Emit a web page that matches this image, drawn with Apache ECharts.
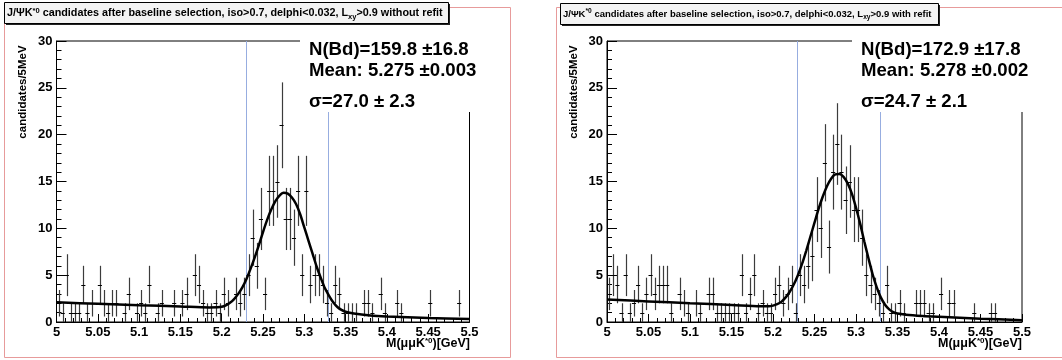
<!DOCTYPE html>
<html><head><meta charset="utf-8">
<script src="https://cdn.jsdelivr.net/npm/echarts/dist/echarts.min.js"></script>
<style>html,body{margin:0;padding:0;background:#fff}#c{width:1062px;height:360px}</style>
</head><body><div id="c"></div>
<script>
// ---- data ----
const binLow = 5.0;          // GeV, lower edge of first bin
const binWidth = 0.005;      // 5 MeV bins
const countsWithoutRefit = [
  2,1,5,1,1,1,4,1,2,0, 4,2,1,2,2,0,1,3,0,1,
  2,1,4,0,1,2,0,0,2,0, 2,3,0,5,4,2,1,1,2,1,
  3,2,0,3,2,3,5,9,6,11, 3,14,14,15,21,11,11,9,14,5,
  14,4,5,5,4,2,1,4,3,1, 1,1,1,0,2,2,1,0,3,1,
  0,0,2,1,0,0,0,0,0,0, 2,0,0,0,0,0,0,2,0,0
];
const countsWithRefit = [
  3,5,4,1,5,1,2,4,1,3, 5,3,4,4,4,1,0,3,2,1,
  0,2,1,0,3,3,1,1,1,1, 1,1,5,1,3,5,1,2,1,1,
  3,4,2,3,4,1,5,4,6,7, 12,10,17,8,16,19,16,13,15,12,
  12,9,5,4,3,2,1,4,1,1, 2,1,0,0,2,2,2,1,1,0,
  3,0,2,2,0,0,0,0,1,0, 0,0,1,1,0,0,0,0,0,0
];
// fit curves
const fitWithoutRefitX = [5.000,5.050,5.100,5.150,5.185,5.195,5.200,5.205,5.210,5.215,5.220,5.225,5.230,5.235,5.240,5.245,5.250,5.255,5.260,5.265,5.270,5.275,5.280,5.285,5.290,5.295,5.300,5.305,5.310,5.315,5.320,5.325,5.330,5.335,5.340,5.345,5.350,5.360,5.380,5.400,5.450,5.500];
const fitWithoutRefitY = [2.10,1.95,1.80,1.66,1.56,1.57,1.62,1.78,2.05,2.45,3.0,3.7,4.6,5.7,6.9,8.2,9.6,10.9,12.0,12.9,13.5,13.8,13.7,13.3,12.6,11.5,10.1,8.7,7.3,5.9,4.7,3.6,2.8,2.1,1.6,1.3,1.1,0.9,0.7,0.6,0.43,0.32];
const fitWithRefitX = [5.000,5.050,5.100,5.150,5.185,5.195,5.200,5.205,5.210,5.215,5.220,5.225,5.230,5.235,5.240,5.245,5.250,5.255,5.260,5.265,5.270,5.275,5.280,5.285,5.290,5.295,5.300,5.305,5.310,5.315,5.320,5.325,5.330,5.335,5.340,5.345,5.350,5.360,5.380,5.400,5.450,5.500];
const fitWithRefitY = [2.40,2.20,2.00,1.82,1.68,1.68,1.75,1.9,2.15,2.6,3.2,4.0,5.0,6.2,7.6,9.1,10.6,12.1,13.4,14.5,15.3,15.75,15.8,15.5,14.8,13.7,12.2,10.5,8.6,6.8,5.1,3.7,2.6,1.85,1.35,1.05,0.9,0.78,0.65,0.56,0.36,0.2];
const cutLines = [5.229, 5.329];
const xRange = [5.0, 5.5], xStep = 0.05;
const yRange = [0, 30], yStep = 5;
const titleTexts = [
  ['J/ΨK', '*0', ' candidates after baseline selection, iso>0.7, delphi<0.032, L', 'xy', '>0.9 without refit'],
  ['J/ΨK', '*0', ' candidates after baseline selection, iso>0.7, delphi<0.032, L', 'xy', '>0.9 with refit']
];
const statLines = [
  ['N(Bd)=159.8 ±16.8', 'Mean: 5.275 ±0.003', 'σ=27.0 ± 2.3'],
  ['N(Bd)=172.9 ±17.8', 'Mean: 5.278 ±0.002', 'σ=24.7 ± 2.1']
];
const yTitle = 'candidates/5MeV';

// ---- chart ----
const FONT = '"Liberation Sans", Arial, Helvetica, sans-serif';
const chart = echarts.init(document.getElementById('c'), null, {renderer: 'canvas'});

function toPoints(counts) { return counts.map((v, i) => [binLow + (i + 0.5) * binWidth, v]); }
function zip(xs, ys) { return xs.map((x, i) => [x, ys[i]]); }

function renderErr(params, api) {
  const x = api.value(0), v = api.value(1);
  if (!v) return null;
  const e = Math.sqrt(v);
  const pL = api.coord([x - binWidth / 2, v]);
  const pR = api.coord([x + binWidth / 2, v]);
  const pT = api.coord([x, v + e]);
  const pB = api.coord([x, Math.max(0, v - e)]);
  const cx = Math.round(pT[0]) + 0.5, cy = Math.round(pL[1]) + 0.5;
  return {type: 'group', children: [
    {type: 'line', shape: {x1: cx, y1: pB[1], x2: cx, y2: pT[1]}, style: {stroke: '#3c3c3c', lineWidth: 1.2}},
    {type: 'line', shape: {x1: pL[0], y1: cy, x2: pR[0], y2: cy}, style: {stroke: '#000', lineWidth: 1}}
  ]};
}
function renderCut(params, api) {
  const x = api.value(0);
  const pT = api.coord([x, yRange[1]]);
  const pB = api.coord([x, yRange[0]]);
  const cx = Math.round(pT[0]) + 0.5;
  return {type: 'line', shape: {x1: cx, y1: pT[1], x2: cx, y2: pB[1]}, style: {stroke: '#97ade0', lineWidth: 1}};
}

const grids = [
  {left: 56.5, top: 41, width: 413, height: 281},
  {left: 607, top: 41, width: 415, height: 281}
];

function xAxis(g) {
  return {
    type: 'value', gridIndex: g, min: xRange[0], max: xRange[1], interval: xStep,
    axisLine: {show: true, onZero: false, lineStyle: {color: '#000', width: 1}},
    axisTick: {show: true, inside: true, length: 8, lineStyle: {color: '#000'}},
    minorTick: {show: true, splitNumber: 5, length: 4, lineStyle: {color: '#000'}},
    splitLine: {show: false},
    axisLabel: {color: '#000', fontWeight: 'bold', fontSize: 13, fontFamily: FONT, margin: 4, hideOverlap: false,
      formatter: v => String(+v.toFixed(2))}
  };
}
function yAxis(g) {
  return {
    type: 'value', gridIndex: g, min: yRange[0], max: yRange[1], interval: yStep,
    axisLine: {show: true, lineStyle: {color: '#000', width: 1}},
    axisTick: {show: true, inside: true, length: 10, lineStyle: {color: '#000'}},
    minorTick: {show: true, splitNumber: 5, length: 5, lineStyle: {color: '#000'}},
    splitLine: {show: false},
    axisLabel: {color: '#000', fontWeight: 'bold', fontSize: 13, fontFamily: FONT, margin: 4}
  };
}

const panels = [
  {counts: countsWithoutRefit, fit: zip(fitWithoutRefitX, fitWithoutRefitY)},
  {counts: countsWithRefit, fit: zip(fitWithRefitX, fitWithRefitY)}
];

const series = [];
panels.forEach((p, g) => {
  series.push({
    type: 'custom', xAxisIndex: g, yAxisIndex: g, renderItem: renderCut,
    data: cutLines.map(c => [c]), silent: true, z: 2
  });
  series.push({
    type: 'custom', xAxisIndex: g, yAxisIndex: g, renderItem: renderErr,
    data: toPoints(p.counts), clip: true, silent: true, z: 3
  });
  series.push({
    type: 'line', xAxisIndex: g, yAxisIndex: g, data: p.fit, smooth: 0.3,
    showSymbol: false, symbol: 'none', lineStyle: {color: '#000', width: 2.5}, z: 4, silent: true
  });
});

// graphics
const panelBoxes = [{x: 4, y: 7, w: 506, h: 350}, {x: 556, y: 7, w: 520, h: 350}];
const titleBoxes = [{x: 4, y: 2, w: 444, h: 21, fs: 10.8}, {x: 560, y: 3, w: 378, h: 21, fs: 9.5}];
const whiteMasks = [{x: 300, y: 8, w: 209, h: 104}, {x: 852, y: 8, w: 215, h: 104}];
const statPos = [{x: 309}, {x: 861}];
const statY = [48.5, 70, 100.5];
const yTitlePos = [{x: 22.5, y: 92}, {x: 574, y: 92}];
const xTitleRight = [470, 1022];

const graphic = [];
panelBoxes.forEach(b => graphic.push({type: 'rect', z: 1, silent: true,
  shape: {x: b.x + 0.5, y: b.y + 0.5, width: b.w, height: b.h}, style: {fill: null, stroke: '#e79b9b', lineWidth: 1}}));
whiteMasks.forEach(m => graphic.push({type: 'rect', z: 50, silent: true,
  shape: {x: m.x, y: m.y, width: m.w, height: m.h}, style: {fill: '#fff'}}));
titleBoxes.forEach((b, i) => {
  const t = titleTexts[i];
  graphic.push({type: 'rect', z: 60, silent: true, shape: {x: b.x + 2, y: b.y + 2, width: b.w, height: b.h}, style: {fill: '#222'}});
  graphic.push({type: 'rect', z: 61, silent: true, shape: {x: b.x + 0.5, y: b.y + 0.5, width: b.w, height: b.h}, style: {fill: '#f3f3f3', stroke: '#000', lineWidth: 1}});
  graphic.push({type: 'text', z: 62, silent: true, x: b.x + 3, y: b.y + b.h / 2 + 1,
    style: {text: '{n|' + t[0] + '}{sup|' + t[1] + '}{n|' + t[2] + '}{sub|' + t[3] + '}{n|' + t[4] + '}',
      verticalAlign: 'middle', align: 'left',
      rich: {
        n: {fontSize: b.fs, fontWeight: 'bold', fontFamily: FONT, fill: '#000'},
        sup: {fontSize: b.fs * 0.7, fontWeight: 'bold', fontFamily: FONT, fill: '#000', padding: [0, 0, 6, 0]},
        sub: {fontSize: b.fs * 0.7, fontWeight: 'bold', fontFamily: FONT, fill: '#000', padding: [6, 0, 0, 0]}
      }}});
});
statPos.forEach((p, i) => {
  statLines[i].forEach((s, k) => graphic.push({type: 'text', z: 70, silent: true, x: p.x, y: statY[k] + 1,
    style: {text: s, font: 'bold 18.6px ' + FONT, fill: '#000', verticalAlign: 'middle', align: 'left'}}));
});
yTitlePos.forEach(p => graphic.push({type: 'text', z: 70, silent: true, x: p.x, y: p.y, rotation: Math.PI / 2,
  style: {text: yTitle, font: 'bold 11.5px ' + FONT, fill: '#000', align: 'center', verticalAlign: 'middle'}}));
xTitleRight.forEach(xr => graphic.push({type: 'text', z: 70, silent: true, x: xr, y: 344,
  style: {text: '{n|M(μμK}{sup|*0}{n|)[GeV]}', align: 'right', verticalAlign: 'middle',
    rich: {n: {fontSize: 12.5, fontWeight: 'bold', fontFamily: FONT, fill: '#000'},
           sup: {fontSize: 8, fontWeight: 'bold', fontFamily: FONT, fill: '#000', padding: [0, 0, 7, 0]}}}}));

chart.setOption({
  animation: false,
  backgroundColor: '#fff',
  grid: grids.map(g => Object.assign({show: true, borderColor: '#000', borderWidth: 1, backgroundColor: 'transparent'}, g)),
  xAxis: [xAxis(0), xAxis(1)],
  yAxis: [yAxis(0), yAxis(1)],
  series: series,
  graphic: graphic
});
</script></body></html>
